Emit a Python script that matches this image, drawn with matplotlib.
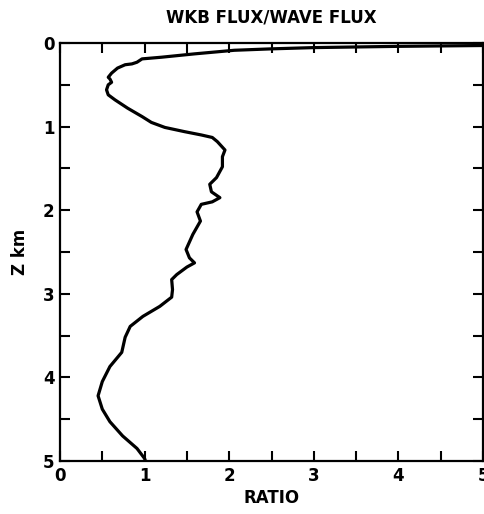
import numpy as np
import matplotlib
matplotlib.use("Agg")
import matplotlib.pyplot as plt

# WKB flux / full wave flux as a function of height
ratio = [5.0, 4.0, 3.0, 2.5, 2.06, 1.59, 1.20, 0.97, 0.91, 0.85, 0.77, 0.68,
         0.61, 0.57, 0.59, 0.61, 0.57, 0.55, 0.57, 0.65, 0.80, 0.97, 1.08,
         1.24, 1.47, 1.67, 1.80, 1.86, 1.95, 1.92, 1.92, 1.85, 1.77, 1.79,
         1.89, 1.80, 1.67, 1.62, 1.66, 1.57, 1.49, 1.53, 1.59, 1.50, 1.38,
         1.32, 1.33, 1.32, 1.18, 0.98, 0.83, 0.77, 0.73, 0.59, 0.50, 0.45,
         0.50, 0.59, 0.74, 0.91, 1.00, 1.01]
z_km = [0.03, 0.04, 0.055, 0.07, 0.087, 0.13, 0.17, 0.19, 0.23, 0.25, 0.26, 0.30,
        0.36, 0.41, 0.43, 0.47, 0.50, 0.56, 0.62, 0.68, 0.78, 0.88, 0.95,
        1.01, 1.06, 1.10, 1.13, 1.18, 1.28, 1.36, 1.48, 1.61, 1.69, 1.78,
        1.85, 1.90, 1.93, 2.02, 2.13, 2.29, 2.47, 2.57, 2.63, 2.68, 2.77,
        2.83, 2.95, 3.04, 3.15, 3.27, 3.39, 3.52, 3.70, 3.87, 4.05, 4.22,
        4.38, 4.53, 4.70, 4.85, 4.97, 5.0]

x_ticks = [0, 1, 2, 3, 4, 5]
y_ticks = [0, 1, 2, 3, 4, 5]

fig = plt.figure(figsize=(4.84, 5.14), dpi=100)
ax = fig.add_axes([60 / 484, 53 / 514, 423 / 484, 418 / 514])

ax.plot(ratio, z_km, color="black", lw=2.3, solid_joinstyle="round",
        solid_capstyle="round")

ax.set_xlim(0, 5)
ax.set_ylim(5, 0)
ax.set_xticks(x_ticks)
ax.set_yticks(y_ticks)
ax.set_xticks(np.arange(0, 5.01, 0.5), minor=True)
ax.set_yticks(np.arange(0, 5.01, 0.5), minor=True)
ax.tick_params(which="both", direction="in", top=True, right=True,
               length=7, width=1.5, labelsize=12, pad=4)
ax.tick_params(which="major", labeltop=False, labelright=False)
for s in ax.spines.values():
    s.set_linewidth(1.6)

ax.set_xlabel("RATIO", fontsize=12, fontweight="bold", labelpad=3)
ax.set_ylabel("Z km", fontsize=12, fontweight="bold", labelpad=10)
ax.set_title("WKB FLUX/WAVE FLUX", fontsize=12, fontweight="bold", pad=15)
for lbl in ax.get_xticklabels() + ax.get_yticklabels():
    lbl.set_fontweight("bold")

fig.savefig("out.png", dpi=100)
